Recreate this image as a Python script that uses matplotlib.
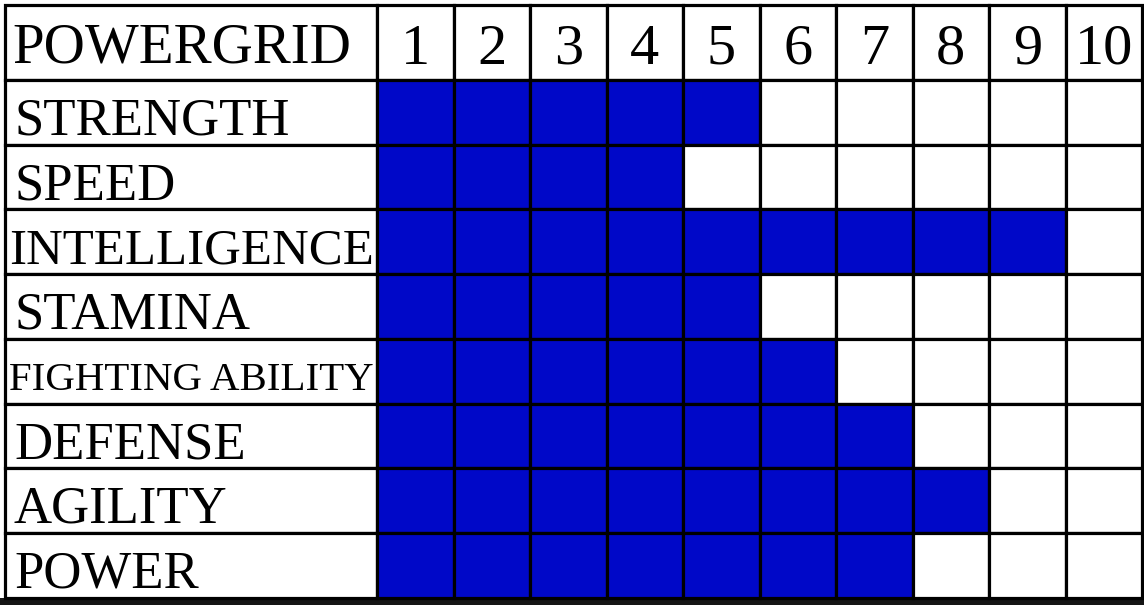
import matplotlib.pyplot as plt
from matplotlib.patches import Rectangle

# Powergrid values (1-10)
title = 'POWERGRID'
stats = ['STRENGTH', 'SPEED', 'INTELLIGENCE', 'STAMINA',
         'FIGHTING ABILITY', 'DEFENSE', 'AGILITY', 'POWER']
values = [5, 4, 9, 5, 6, 7, 8, 7]
levels = list(range(1, 11))

blue = '#0008c8'
lw = 2.3

# layout in pixels
W, H = 1144, 605
left, label_w, col_w = 5, 372, 76.5
top, head_h, row_h = 5, 75, 64.7

fig = plt.figure(figsize=(W / 100, H / 100), dpi=100)
ax = fig.add_axes([0, 0, 1, 1])
ax.set_xlim(0, W)
ax.set_ylim(H, 0)
ax.axis('off')

# dark strip along the bottom edge
ax.add_patch(Rectangle((0, 598), W, 10, facecolor='#151515', edgecolor='none', zorder=0))

x0 = left + label_w

# header row
ax.add_patch(Rectangle((left, top), label_w, head_h, facecolor='white',
                       edgecolor='black', lw=lw, zorder=2))
ax.text(left + 7, top + head_h / 2 + 6, title, fontsize=41, family='Liberation Serif',
        va='center', ha='left', zorder=3)
for j, lv in enumerate(levels):
    ax.add_patch(Rectangle((x0 + j * col_w, top), col_w, head_h, facecolor='white',
                           edgecolor='black', lw=lw, zorder=2))
    ax.text(x0 + (j + 0.5) * col_w, top + head_h / 2 + 7, str(lv), fontsize=42,
            family='Liberation Serif', va='center', ha='center', zorder=3)

fig.canvas.draw()
renderer = fig.canvas.get_renderer()

# stat rows
for i, (name, val) in enumerate(zip(stats, values)):
    y = top + head_h + i * row_h
    ax.add_patch(Rectangle((left, y), label_w, row_h, facecolor='white',
                           edgecolor='black', lw=lw, zorder=2))
    fs = 38
    t = ax.text(left + 9, 0, name, fontsize=fs, family='Liberation Serif',
                va='baseline', ha='left', zorder=3)
    w = t.get_window_extent(renderer).width
    if w > label_w - 8:
        fs = fs * (label_w - 8) / w
        t.set_fontsize(fs)
        t.set_x(left + 4)
    cap = 0.66 * fs * 100 / 72
    t.set_y(y + row_h / 2 + cap / 2 + 5)
    for j, lv in enumerate(levels):
        ax.add_patch(Rectangle((x0 + j * col_w, y), col_w, row_h,
                               facecolor=blue if lv <= val else 'white',
                               edgecolor='black', lw=lw, zorder=2))

fig.savefig('out.png', dpi=100, facecolor='white')
